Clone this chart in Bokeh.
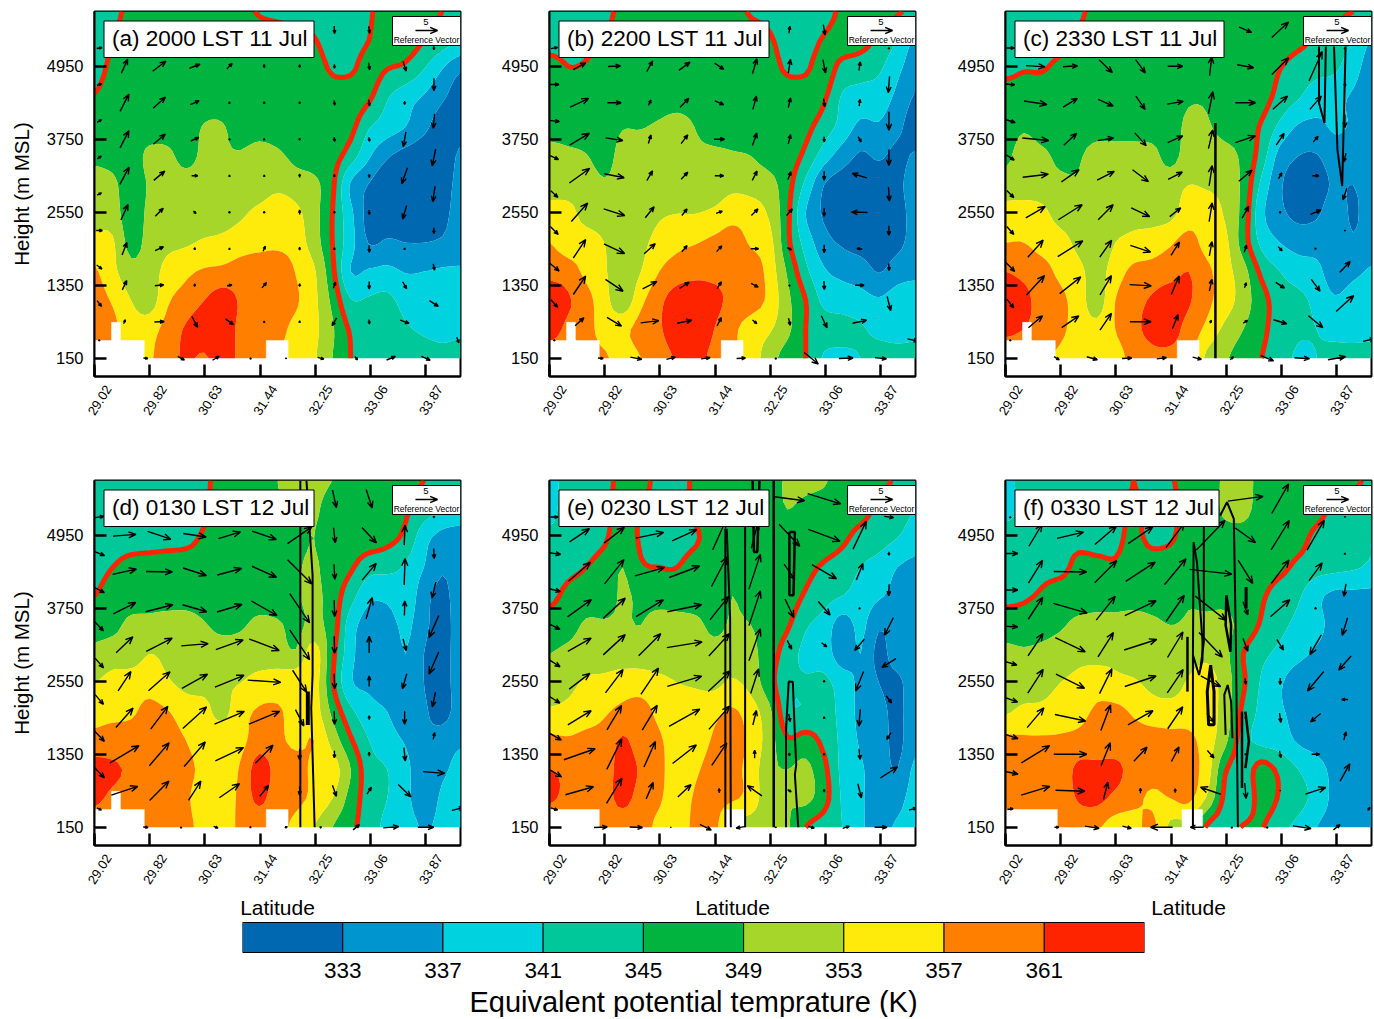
import numpy as np
from bokeh.plotting import figure
from bokeh.layouts import column, row
from bokeh.models import Range1d, FixedTicker, LinearAxis
from bokeh.core.properties import value
from bokeh.embed import file_html
from bokeh.resources import INLINE

FONT = "Liberation Sans"
LEVELS = [320, 333, 337, 341, 345, 349, 353, 357, 361, 385]
BAR_EDGES = [329, 333, 337, 341, 345, 349, 353, 357, 361, 365]
BAR_TICKS = [333, 337, 341, 345, 349, 353, 357, 361]
COLORS = ["#0068B0", "#0095CF", "#00D2E0", "#00C89B", "#00B53F", "#A5D629", "#FFEB0B", "#FF7F00", "#FF2400"]
LAT_TICKS = [29.02, 29.83, 30.64, 31.45, 32.26, 33.07, 33.88]
LAT_LABELS = ["29.02", "29.82", "30.63", "31.44", "32.25", "33.06", "33.87"]
H_TICKS = [150, 1350, 2550, 3750, 4950]
GRID_LAT = [29.02 + 0.2685 * i for i in range(21)]
GRID_H = [150 + 475 * i for i in range(13)]
V_LAT = [29.46, 29.97, 30.49, 31.0, 31.51, 32.03, 32.54, 33.05, 33.57]
V_H = [5550, 4950, 4350, 3750, 3150, 2550, 1950, 1350, 750]
LEFT_LAT, RIGHT_LAT = 29.09, 34.0
LEFT_H = [5250, 4650, 4050, 3450, 2850, 2250, 1650, 1050, 450]
BOT_LAT = [29.77, 30.29, 30.80, 31.31, 31.83, 32.34, 32.86, 33.37, 33.88, 34.35]
BOT_H = [150] * 9 + [450]

TITLES = ["(a) 2000 LST 11 Jul", "(b) 2200 LST 11 Jul", "(c) 2330 LST 11 Jul",
          "(d) 0130 LST 12 Jul", "(e) 0230 LST 12 Jul", "(f) 0330 LST 12 Jul"]
TITLE_W = [210, 210, 209, 210, 210, 204]

# theta-e fields, top row first
F_A = [
[343,344,346,347,347,347,347,347,346,344.7,344,343,343,343,343,344.7,346,347,346,345,344],
[343,345,347,347,347,347,347,347,347,347,347,347,345.3,343,343.5,345,347,347,345,343,341],
[343.5,346,347,347,347,347,347,347,347,347,347,347,347,344.5,344.5,346.5,345,344,341,337,333.5],
[345.3,347,347,347,347,347,347,347,347,347,347,347,347,347,347,345.5,341.2,338.5,336.5,333.5,331],
[347,347,347,347,347,347,349.3,349.3,347,347,347,347,347,347,346,341.3,339,337,334,331,332],
[348,347.5,347,350,350,347.5,350,349.5,349.5,351,349.8,348,347,346.5,343,337.5,333.5,331.5,330.5,331,333.5],
[351,350,346.5,349.5,351,351,351,351,351,351,352,351,350,345.8,336.5,332.8,330,330,330,331.5,334],
[351,351,346.5,350,351,351,351,351.5,352.5,354,355.5,354,350.5,345,338,331.5,331,331,331,332,334.5],
[354.5,353.5,347.5,350.5,352,352.5,353.5,354,355,355.5,356,355,351,345,338.5,332.8,333.5,333,333,333.5,335],
[357.5,354,350.5,351,354.5,356.2,357.5,358,359,360,360,356.8,353.5,346,337,337.5,338,336.8,337,337.5,337.5],
[359,356.5,353,351,356.5,358.5,361,363,360.5,359.5,359,357.5,354,348,341.3,341.5,342,339.5,339,339,339],
[361,358,355,355.5,358.5,361.5,363.5,363.5,360,359,358,356,354,349.5,344.5,343.5,343.5,341.5,340.5,340,340],
[356,356,356,356.5,359.5,361.5,360.5,363,360,358.5,357,356,353.5,349,345,343,343,343,342.5,342,343],
]
F_B = [
[343,343,343.5,344,346,347,347,347,347,347,346.5,344.6,344,343,343,343,346,347,347,345.5,344],
[343,343.5,344,345,347,347,347,347,347,347,347,347,345.5,343.5,343,345.5,347,346.5,344,341,336.5],
[347,345.2,345.5,347,347,347,347,347,347,347,347,347,346.5,344.5,344.5,347,343.5,342.5,341.5,338,334.5],
[347,347,347,347,347,347,347,347,347,347,347,347,347,347,347,345.5,340.5,339.5,339,336,332.5],
[347,347,347,347,348.8,348.8,349.7,351,348.8,347,347,347,347,347,346,343,339.5,336,336.5,334,331],
[351,350,349.2,347.5,350.5,351,351.5,351.5,350,350,349.5,349,347.5,347,344,339,335,332.5,333.5,332,333.5],
[351,351,351,349.5,350.5,351,351,351,351,351,352,351.5,350.5,346.5,340,333,331,331,331,332,335],
[355,354.5,351.5,351,351,351,352.5,353,353,353.8,355.5,355,352.5,346,337,332.5,331,331,331,331.5,334.5],
[357,355,355,353,351,352,354.5,356,356.8,358,359,356.5,354.5,346,339.5,334.5,332.5,331.5,331,332,334.5],
[360,359,356,353.5,350.5,353,357,359,360,360,360,359.5,355.5,348.5,342,337.5,336,335,332.8,335,336],
[363,361.5,358.5,354.5,350.5,356,360,363,363,362,360,359,356,350,345,340,339,338.5,337.5,339,339.5],
[363,360,358.5,355.5,356,358.5,360.5,363.5,363.5,361,358,355,353.5,350,345,343,342.5,341.5,340,339.5,340],
[358,358,358,357.5,355.5,357,359,361.5,362,360,358,355,351,347,345,340.5,340,341,342.5,342.5,342.5],
]
F_C = [
[343,343,343,344,344.5,346,347,347,347,347,347,347,346,345,346.5,347,347,347,346,345,344],
[343,343,343.5,344,345.5,347,347,347,347,347,347,347,347,347,347,347,346,344.5,343,341,337],
[344,344.8,344.8,346,347,347,347,347,347,347,347,347,347,347,347,345,343,342,341.5,338.5,335],
[347,347,347,347,347,347,347,347,347,347,348.5,348.5,347,347,346.5,343.5,341.2,339,338,336.5,335],
[347,348.5,347,347,347,347,347,347,347,347,350,349.5,347.5,347,344.5,340,336.5,336,337.5,336.5,335],
[348,351,350,348,348.5,351,351,351,350.5,347.5,351,351,350.5,348,343,335.5,333,332.8,335,335,335],
[351,351,351,350,349.5,351,351,351,351,351.5,353,352.5,351.5,348,340,333.5,331.5,331.5,333.5,333,335],
[354.5,355,354,351.5,351,351,351.5,352,351.5,352,355,355.5,352.5,347.5,338,334,332,332.5,335,332.5,335],
[357,357,355.5,354.5,352,350.5,353,354,355,356.5,358.5,355.5,354,347,340,337,335.5,335.5,335.5,333.5,335.5],
[361,360,358.5,356,354,351.5,355,358,358.5,359.5,361,358,354.5,350.5,344,341,339,338,335,336,337.5],
[363,362,359.5,358,355,351,357,359.5,361.5,363,361.5,358,355,351,346.5,343,342,340,337.5,339,340],
[362,361,359.5,358,355,354.5,357,360,362,362.5,359.5,356,352,349,346,343,341.5,341,340,340,340],
[358,358,358,356,354.5,357,355.5,358.5,360,360,359,352,349.5,347,345,342.5,340.5,341,342,342,342.5],
]
F_D = [
[343,343,343,343,343,343.5,344.5,346,347,347,349,350,350,349,348,347,347,346,345,344,343],
[343,343,343,343,343,344,344.5,347,347,347,348.5,349,349.5,347.5,347,347,346.5,345.5,343,341,340],
[343,343,343,343,343.5,344,345.5,347,347,347,347,348,349,347,347,347,346,344,338.5,335.5,335],
[343.5,345,346.5,347,347,347,347,347,347,347,347,348.5,349.5,347,345.5,342.5,342,340.5,337,333.5,335],
[345,347,347,347,347,347,347,347,347,347,347,348.5,350,347,342.5,338,338,340,334.5,332,335],
[347.5,348,350,350.5,351,351,349.3,348,348.5,350,349.5,348,350,347,339,335,335,338,334,331.5,335],
[350,351,351,353,352,351,351,351,351,351,351,349.5,355,346,338.5,333.5,334,337,333,331.5,335],
[353,354.5,355,355.5,353.5,352,352,352.5,353,354.5,355,356,355,345.5,337.5,336,335,336.5,333,331.5,335],
[356,356.2,356.5,358,357.2,355,354,352,355.5,357.5,357.5,355.5,355,348,342,338.5,337,334,333.5,331.5,335],
[358,358.5,358.5,358.5,358.5,357,355,355.5,356,359,358,356,357,351.5,345.5,341,339,336.5,333.5,335,336.5],
[363,361.8,360.4,360.4,359,358,356,355,357.5,363,359.5,359,356,355,349,342.5,341,338.5,333,336,338.5],
[362,360,359,358.5,358,357.5,355,355,358,362,358.5,358,356,353,347.5,343,341,338.5,333.5,338,340],
[358,358,358,358,358,358,355.5,354.5,358,358,358,356,353,349,346,343,340,339.5,336.5,338.5,340],
]
F_E = [
[339,343,343,344,346,347,343,343,346,347,347,347,347.5,349.5,350,349.5,347,347,346,344.5,343],
[339.5,343,343,344,346.5,345,343.5,343,346,347,347,347,347.5,349,348,347,347,346.5,344,343,341],
[342,343,343.5,344.5,347,344.5,343,343,344.5,347,347,347,347,347,347,347,345.8,343.5,342.5,341,339],
[343,344,345,346.5,349,345.5,345,345,347,347,348.5,347,347,347,346,344.5,343,341,339.5,337,336],
[344,346,347,347,349.5,348,347,347,347,347,349,347.5,347,347,344.5,342.5,341,339.5,337.5,336,336],
[347,347.5,349.5,349.5,349.5,349,351,350.5,350,348,349.5,349,347.5,345.5,341.5,339.5,335,338,333.5,335,336],
[349,350,351,351,351,351,351,351,351,350.5,351,350,347,343,340,339,335,337,332,335,336],
[351,352,353.5,354,355,355,354,353,352.5,352,353.5,351.5,346.5,342,341.5,342,339,336,333,332,336],
[353.5,354,355,356.5,358,358.5,356,355,355,356,357.5,355,350,342,341.5,343,339.5,336,334.5,332,336],
[358,357.5,358,358.5,361.5,359,357.5,355,355,357.5,358.5,356,351,345.5,346.5,344,340,336.5,335,332,336],
[361,360,357.5,359,362.5,360.5,358,355,356.5,358.5,358,355.5,350,349,350,346,340,337.5,335,333,338],
[361.5,360,358,359.5,362,359.5,357.5,355,357.5,358,357.5,355.5,350,349,350,346.5,340.5,337.5,335.5,335.5,339],
[358,358,358,359,359,358.5,356,355,358,358,352,351,350.5,349.5,345,343,341,337.5,336,337.5,339],
]
F_F = [
[339,343,343,343,343.5,344.5,343,345,343.5,344.5,347,347.5,349.5,350,348,347,347,347,347,346,344],
[339.5,342,343,343,343,343,343.5,345.5,343.5,343.5,347,347.5,349.5,350,347.5,347,347,346.5,344,343,342],
[343,343,343,344,344,343.5,344,346,344,344.5,347,348,348,347.5,347,347,346.5,343.8,342.5,342,341],
[343.5,343.5,344,344,346,346,345.5,347,347,347,347,347.5,348,347,347,346,344,342.5,342,341.5,340.5],
[344,344.5,345.5,347,347,347,347,347,347,347,348.5,348,348,347,345.5,343,341.5,338,336,336,336],
[347,347,347.5,348.5,350,350.5,350.5,351,350,349,349.5,350,350,347.5,344.5,342,340,338,336,336,336],
[350,349.5,350,351,352,351.5,352,351,351,351,351,352,350,345,342,340,338,336.5,336,336,336],
[351,350.5,351.5,353,354,355.5,354,353.5,352,351,353.5,355,351,345.5,340.5,337.5,335,335,335.5,336,336],
[352.5,354,354,355,356,357.5,358,356.5,355,355,355,355,351,344,340,337.5,336,335,335,335.5,336],
[358,357.5,357.5,357.5,358,358.5,358.5,358.5,358.5,358,358,355,350,342.5,340,339,336.5,335.5,335,335.5,336],
[359,358,358,358.5,362,362,362,359.5,358.5,358.5,358.5,355,345.5,343,346.5,344,341,338.5,336,335.5,336],
[359,358,358,358,361.5,362,360,358,356.5,357,358,352.5,344,341.5,347,344.5,342.5,339.5,336,335.5,336],
[358,358,358,358,358,357.5,355,355.5,358,352,351,344.5,343,345.3,345.2,342,340,337,335.5,335.5,336],
]

# wind vectors in reference-vector units (u, w pairs); main lattice rows top first
M_A = [
[0,0, 0,0, 0,0, 0,0, 0,0, 0,0, .1,-1.7, .2,-1.6, 0,0],
[1.4,3.2, 3,2.3, 2.4,.9, 1.2,1.3, 0,.8, 0,.7, 0,-.9, .2,-1.6, .7,-2.2],
[2,3.9, 2.8,2.5, 2,.9, 0,.4, 0,.4, 0,.5, .2,-1.1, .2,-1.4, 0,-.8],
[2,3.9, 2.7,2.3, 1.8,.8, 0,.3, 0,.3, 0,.5, .2,-1, .2,-.9, -.6,-3.4],
[2.1,3.9, 2.5,2.1, 1.4,0, 0,.3, 0,.3, 0,.8, 0,.6, .1,-.8, -1.3,-3.6],
[1.6,3.5, 1.8,1.8, .6,-.6, 0,.4, 0,.4, 0,1, 0,.5, .1,-1, -.9,-3.1],
[1.1,2.8, 1.9,.9, .1,.5, 0,.3, .5,1.1, 0,.7, 0,.4, .1,-1.6, 0,.3],
[1,2.1, 2,.2, .1,.6, 1.1,.2, 1,1.2, 0,.7, .5,1.4, 0,-1.7, .9,-1.6],
[.4,.9, 2.2,.1, 1.3,-2.5, 1.8,-1.3, 0,.3, 0,.4, -1,-1.8, .1,-1, 2,-.7],
]
L_A = [1.2,.2, 1.1,.4, 1,.6, .9,.6, 1,.5, 1.4,0, 1.2,-.9, 1,-1.3, 0,0]
R_A = [0,-.8, 0,-2.8, -.3,-3.3, -.8,-3.8, -.5,-3.5, 0,-1.3, .3,-1.4, 2,-1.3]
B_A = [1,-.1, 1.5,-.8, 1.5,.9, 0,0, 0,.2, 1.4,-.4, .6,-.8, 2,.8, 2,-.9, .5,-1.3]
M_B = [
[0,0, 0,0, 0,0, 0,0, 0,0, 0,0, .2,1.6, .4,-2.3, 0,0],
[2.8,1.5, 2.8,.1, 1.3,2.4, 2.5,1.9, 2.1,-1.4, 1,3.4, .5,3.1, .6,-3, .3,2],
[4.2,2, 3.1,0, .6,1.2, 2,2, 2,-.9, .8,3, .5,2.2, .2,-1.8, .2,1.5],
[4.5,2.7, 3.9,-.6, .6,1.9, 1.5,2, 2.4,0, 1,2.8, .5,2.1, .1,-1.2, .7,-1.2],
[4.6,3.3, 4.5,-.9, 1.3,2.2, 1.5,1.6, 2,0, 1.1,2.1, .7,1.8, 0,-2, -3.3,1],
[3.7,4.2, 4.8,-1.5, 2,2.5, 1.2,1.5, 1.4,.5, 1.5,1.5, 1.3,1.5, 0,-1.8, -3.6,.1],
[2.8,4.2, 4.7,-2.2, 2.5,2.3, 1.2,1.4, 1.2,1.3, 1.8,0, 1,-.5, 0,-1.8, -1.2,.1],
[2.8,4.2, 4,-2.7, 3.2,1.7, 2.2,1.4, 1,1.5, 1.6,-.8, 0,0, .1,-1.9, 2,0],
[2,1.8, 3.3,-2, 4.1,.5, 3.3,.7, 1,1.9, 1,-.8, .4,-1.6, 1.3,-2.7, 3.2,.7],
]
L_B = [1.5,.3, 2.1,0, 2.3,-.3, 1.9,-.9, 1.6,-1.5, 1.8,-1.8, 2.2,-1.8, 1.5,-1.7, 0,0]
R_B = [0,0, -.3,-3.7, 0,-4.2, 0,-3.6, .2,-3.2, 0,-2.2, .1,-1.6, .8,-3.2]
B_B = [1.2,-.1, 2.6,-.5, 2,.5, 2,.3, 2,.1, 0,0, 3.2,-2.6, 3.2,.1, 2.6,-.3, 2.4,-.5]
M_C = [
[0,0, 0,0, 0,0, 0,0, 0,0, 0,0, 2.8,-1.2, 3.8,3.5, 0,0],
[4.3,-.3, 3.3,.2, 3,-2.9, 2.2,-3, 3.4,0, .5,4.3, 3.7,-.7, 3.8,3.8, 3,6.7],
[5.2,-.8, 3.2,2, 3.4,-1.5, 2.1,-3, 3.6,.6, 1,5, 4.6,0, 3.3,3, 2.6,3],
[6,-.6, 2.9,2.7, 3.6,.6, 2.6,-2.9, 3.4,1.5, 1,4.3, 4.5,1.5, 1.8,2.7, 1.1,1.3],
[5.8,.7, 4,2.8, 3.9,2, 3.6,-2.7, 3.2,1.7, .7,4.6, 3,2.5, .7,1.3, 1.5,0],
[4.4,2.6, 5.4,3.4, 3.4,3.4, 4.2,-2, 2.5,2, .7,4.3, 1.5,2.7, .3,.2, 2.4,1],
[3.5,3.9, 5.7,3.6, 2.7,3.8, 4.6,-1.5, 1.9,3, .6,3.2, .5,1.6, .9,-.9, .3,.1],
[4.1,4.4, 4.8,3.8, 2.6,4.4, 4.9,-.3, 1.8,4.2, .6,2.7, .4,1.1, 2,-1.3, 2,-2.7],
[3.2,2.7, 3.9,2.7, 2.6,3.8, 4.8,0, 1.3,3.2, .3,.7, 1,.6, 3,-.9, 3.3,-2.7],
]
L_C = [1.8,0, 2,-.2, 2.2,-.7, 1.8,-1.2, 1.6,-1.6, 1.6,-1.8, 2,-2, 1.6,-2, 0,0]
R_C = [0,0, 0,-1, 0,-3, -.5,-2, -.9,-2.6, 0,.2, 2.4,2.5, 4,3.6]
B_C = [1.2,-.7, 2.4,-.7, 2.2,.1, 2.2,.3, 2,-.5, .7,.7, 2.9,-1.2, 3.4,-.2, 4,.7, 2.6,.6]
M_D = [
[0,0, 0,0, 0,0, 0,0, 0,0, 0,0, .9,-4, 1.4,-4.2, 0,0],
[5.2,.4, 5.3,-1.8, 5.2,-.8, 5,1.5, 5.5,-1.9, 5.5,3.8, .4,-3.4, 3.3,-3.5, .2,4.5],
[5.4,1.2, 6,-.1, 5.3,-1.7, 5.5,1.5, 5.6,-2.5, 5.5,-5.5, .2,-3.4, 3.2,3.8, .2,6],
[5.1,2.6, 6.2,1.6, 5.5,-1.6, 5.7,1.7, 5.8,-3.3, 4.5,-6.6, .1,-3.7, 1.4,4.9, .1,3.3],
[3.8,3.6, 5.9,3, 6.1,.5, 6.2,2.2, 6.8,-2.6, 4.5,-6.8, .1,-3.9, 0,3.8, .7,-2.7],
[2.9,4.4, 4.9,4.3, 5.8,3.2, 6.6,2.7, 7.5,-.5, 3.2,-5, .1,-3.4, 0,2.4, -1,-3.4],
[3.9,4.4, 3.9,5.2, 5.4,4.9, 6.8,2.9, 7,2.9, 1.9,-3.7, .1,-3, 0,.9, 0,-3],
[6.6,3.9, 4.5,5.2, 4.8,5.6, 6.4,3, 4,4.1, 0,-2.5, 0,-1.6, 0,.9, .3,-3],
[6,2, 4.4,4.4, 2.8,4.4, 4.6,3.2, 2,2.5, 0,-2, .9,-2.5, 1,1.5, 2.9,-2.8],
]
L_D = [2.1,.3, 2.4,-.9, 2.3,-1.2, 1.9,-2, 1.9,-2.2, 1.9,-2.2, 2.3,-2.4, 2.3,-2.4, 1,-.5]
R_D = [0,-.4, .1,-2.3, -.9,-3.6, -2.2,-5, -2.2,-5, -.7,-3.3, .3,1.5, 4.9,-.4]
B_D = [1.1,-.1, 0,0, 1,-.4, .3,-.1, .6,.2, .3,.2, 1.4,1.2, 3.5,.3, 3.6,0, 2.7,.6]
M_E = [
[0,0, 0,0, 0,0, 0,0, 0,0, 0,0, 6.9,-.9, 7.5,-2.3, 0,0],
[4.5,3, 4.6,3.6, 6.3,1.3, 5.6,2.6, 3,6.7, 1.5,6, 4.7,-5, 7.2,-2.7, 3,6.3],
[5,4.3, 4.4,5.5, 6.7,1.9, 6.9,2.6, 3.5,6.7, 2.6,7.9, 2.4,-3.5, 5.6,-3.2, 1.5,3.8],
[5.4,3.9, 5,4.6, 6.2,3.8, 7.8,1.6, 4.2,5.3, 2.6,7.9, 2,-4.2, 2.7,-3.1, 0,.3],
[5.3,3, 5,4.6, 5,5, 8,1.3, 4.7,5.1, 2.6,7.3, 1,-2, 1.2,-.9, -2.2,-2.6],
[4.7,3.6, 4,5.3, 4,6, 7.8,2.3, 5,4.7, 1.8,5.6, 0,0, 0,.4, -1.8,-4.4],
[5.3,3.2, 3.3,5.5, 3.4,5.6, 7,3.9, 4.7,5.3, .8,3.3, .3,-1.8, 0,.4, -.3,-3.8],
[7.1,2.5, 3.4,6.9, 2.6,5.8, 5.4,4.2, 3.4,5.1, 0,1.8, 0,-.7, 0,.5, .3,-2.3],
[6.4,1.8, 3.5,5.7, 1.6,3.7, 3,2.8, 0,1, -3.3,2.3, .8,-.5, 0,.7, .8,-3.2],
]
L_E = [1.7,0, 2.9,-.4, 2.8,-.7, 2.6,-1.3, 2.6,-1.7, 2.5,-1.6, 3.2,-1.9, 3.3,-2, 1.5,-.5]
R_E = [2.1,-.3, 0,-.8, -.1,-2.6, -2,-4, -3.2,-2, 1.2,-1.6, -1,-1.5, 3.9,2.5]
B_E = [3,.1, 2.9,-.1, 0,.1, 2.6,-1.3, -2.2,-.4, 0,.2, 1.4,-.4, 1.5,.5, 2.8,0, 1.7,.5]
M_F = [
[0,0, 0,0, 0,0, 0,0, 0,0, 0,0, 8,1.1, 3.8,6.7, 0,0],
[3,5, 6,1.4, 4.9,4.2, 5.6,3.8, 4.2,5.6, 6.5,6.7, 4.6,-3.3, 4.1,6.7, 3.9,6.8],
[3.2,5.2, 7.5,-.1, 5,5, 6.7,4.4, 4.9,5.9, 9.6,-1.1, 3.3,-5.3, 4,5.3, 3,4],
[3.3,5, 7.7,-2.2, 4.3,5.4, 7.1,3.4, 4.1,5.9, 7,-5.5, 1.1,-3, 4.4,3.9, 0,.4],
[3.4,5.1, 6.8,-3.2, 3.5,5.5, 7.4,2.4, 3.5,5.8, 5.3,-5.6, 1.1,-2.9, 1.5,-2.4, -2.6,-4.5],
[3.5,5.4, 6.5,-3.2, 2.8,5.6, 7.1,2.4, 3.6,5.3, 4.5,-2.4, .2,-1.3, 0,-1.5, -3.7,-4.4],
[3.8,4.5, 7,-1.5, 2.2,5.8, 5.7,3.2, 3.4,5, 1.7,-2, .2,0, .3,-2.1, -2.3,-1.9],
[6.4,3.9, 7.5,0, 2.1,5.2, 3,3.2, 1.7,3.3, 1.5,-1.7, .2,0, .3,-1.5, 1.8,0],
[6.5,2, 6.7,-.2, 1,3.9, 0,1.1, 0,.9, -4.6,1.6, .3,-3.5, 0,-.1, 4.6,1.5],
]
L_F = [0,0, 3.4,0, 3.4,0, 3.4,-.2, 3,-.9, 3.3,-1.2, 3.5,-1.2, 3.5,-.7, 1.3,.2]
R_F = [0,-.2, 0,0, -.5,-2.8, -1.2,-4, -2.8,-3.2, -1.4,0, .5,1.9, 2.2,3.9]
B_F = [1,0, 3.2,-.5, 2,-.5, -5,0, -3,0, 0,0, 0,0, 4.1,-.6, 1.5,1.2, .5,.7]

# terrain steps: lat_left, lat_right, top height
T_A = [[29.02, 29.75, 440], [29.27, 29.40, 740], [31.54, 31.86, 440]]
T_B = T_A
T_C = T_A
T_D = T_A
T_E = [[29.02, 29.75, 440], [31.60, 31.89, 440]]
T_F = [[29.02, 29.78, 440], [31.61, 31.91, 440]]

# black cloud contours: (lats, heights, width)
K_A = []
K_B = []
K_C = [([32.10, 32.10], [150, 4018], 2.5),
       ([33.72, 33.70, 33.62, 33.62], [5275, 4018, 4346, 5275], 2),
       ([33.84, 33.89, 33.96, 34.01], [5275, 3581, 2980, 5275], 2)]
K_D = [([32.04, 32.04], [150, 5850], 2),
       ([32.13, 32.22, 32.22, 32.20, 32.25], [5850, 4292, 2653, 2106, 150], 2),
       ([32.15, 32.15], [2380, 1830], 4)]
K_E = [([31.60, 31.60], [150, 5057], 2), ([31.62, 31.67, 31.68], [5057, 3600, 150], 2),
       ([31.89, 31.89], [150, 5111], 2), ([32.0, 32.02, 32.07, 32.1], [5850, 4674, 4674, 5850], 2.5),
       ([32.31, 32.31], [150, 5850], 2.5),
       ([32.54, 32.62, 32.60, 32.54, 32.54], [5002, 5002, 3964, 3964, 5002], 2.5),
       ([32.49, 32.49, 32.53, 32.59, 32.62, 32.64, 32.62, 32.67], [150, 1750, 2543, 2543, 1669, 1177, 1013, 150], 2)]
K_F = [([31.77, 31.77, 31.78, 31.83, 31.91, 31.91, 31.86, 31.77], [150, 2980, 4838, 4500, 3199, 2900, 2653, 2980], 2),
       ([31.69, 31.69], [3280, 2380], 2.5),
       ([31.93, 31.93, 31.88], [5111, 3199, 2760], 2),
       ([32.17, 32.27, 32.37, 32.40, 32.43], [5275, 5494, 5220, 3199, 150], 2),
       ([32.03, 31.98, 32.0, 32.08, 32.08, 32.03], [2815, 2380, 1833, 1833, 2380, 2815], 3),
       ([32.26, 32.25, 32.32, 32.33, 32.26], [3964, 3472, 3035, 3472, 3964], 2.5),
       ([32.25, 32.23, 32.28, 32.33, 32.35], [1669, 2325, 2489, 2215, 1614], 2),
       ([32.55, 32.55], [4100, 3745], 3),
       ([32.49, 32.49], [2051, 795], 2.5), ([32.54, 32.59, 32.54], [2051, 1560, 1123], 2.5)]

FIELDS = [F_A, F_B, F_C, F_D, F_E, F_F]
MAINS = [M_A, M_B, M_C, M_D, M_E, M_F]
LEFTS = [L_A, L_B, L_C, L_D, L_E, L_F]
RIGHTS = [R_A, R_B, R_C, R_D, R_E, R_F]
BOTS = [B_A, B_B, B_C, B_D, B_E, B_F]
TERRAIN = [T_A, T_B, T_C, T_D, T_E, T_F]
CLOUD = [K_A, K_B, K_C, K_D, K_E, K_F]

LAT0, LAT1, H0, H1 = 29.02, 34.39, -150, 5850
FW, FH = 366, 365
PX_LAT = FW / (LAT1 - LAT0)
PX_H = FH / (H1 - H0)
VEC_PX = 22 / 5
LABEL_SHIFT = 14 / PX_LAT


def sx(px):
    return LAT0 + px / PX_LAT


def sy(px):
    return H1 - px / PX_H


def smooth_rows(z, n):
    # Catmull-Rom rendering of the read field along the first axis, so contours are not angular
    z = np.asarray(z)
    pad = np.vstack([z[0], z, z[-1]])
    out = []
    for i in range(z.shape[0] - 1):
        p0, p1, p2, p3 = pad[i], pad[i + 1], pad[i + 2], pad[i + 3]
        for k in range(n):
            t = k / n
            out.append(0.5 * (2 * p1 + (p2 - p0) * t + (2 * p0 - 5 * p1 + 4 * p2 - p3) * t * t
                              + (3 * p1 - p0 - 3 * p2 + p3) * t ** 3))
    out.append(z[-1])
    return np.array(out)


def fine_field(z, n=4):
    return smooth_rows(smooth_rows(z, n).T, n).T


def arrow_paths(lats, hs, uv, scale=VEC_PX):
    xs, ys = [], []
    for la, h, u, w in zip(lats, hs, uv[0::2], uv[1::2]):
        dx, dy = u * scale, w * scale
        L = max((dx * dx + dy * dy) ** 0.5, 1.2)
        ux, uy = (dx / L, dy / L) if (dx or dy) else (0, 1)
        dx, dy = ux * L, uy * L
        tx, ty = dx / 2, dy / 2
        b = min(8, 0.3 * L + 1.5)
        c, s = 0.92, 0.38
        b1 = (tx - b * (ux * c - uy * s), ty - b * (uy * c + ux * s))
        b2 = (tx - b * (ux * c + uy * s), ty - b * (uy * c - ux * s))
        pts = [(-tx, -ty), (tx, ty), b1, (tx, ty), b2]
        xs.append([la + p[0] / PX_LAT for p in pts])
        ys.append([h + p[1] / PX_H for p in pts])
    return xs, ys


def panel(i, left, right, top, bottom, latitude=False):
    width = left + FW + right
    height = top + FH + bottom
    p = figure(width=width, height=height, output_backend="svg", toolbar_location=None,
               x_range=Range1d(LAT0, LAT1), y_range=Range1d(H0, H1),
               min_border_left=left, min_border_right=right, min_border_top=top, min_border_bottom=bottom)
    p.grid.visible = False
    p.background_fill_color = "white"
    p.outline_line_color = "black"
    p.outline_line_width = 2
    for ax, ticks in ((p.xaxis[0], LAT_TICKS), (p.yaxis[0], H_TICKS)):
        ax.ticker = FixedTicker(ticks=ticks)
        ax.major_tick_in = 12
        ax.major_tick_out = 0
        ax.minor_tick_in = 0
        ax.minor_tick_out = 0
        ax.major_tick_line_width = 2.5
        ax.axis_line_width = 2
        ax.major_label_text_font = FONT
        ax.major_label_text_color = "black"
    p.xaxis[0].major_label_overrides = {t: "" for t in LAT_TICKS}
    p.yaxis[0].major_label_text_font_size = "16.5px"
    p.yaxis[0].major_label_standoff = 11

    shifted = [round(t + LABEL_SHIFT, 3) for t in LAT_TICKS]
    lab = LinearAxis(ticker=FixedTicker(ticks=shifted), major_label_overrides=dict(zip(shifted, LAT_LABELS)),
                     major_tick_in=0, major_tick_out=0, minor_tick_in=0, minor_tick_out=0, axis_line_color=None,
                     major_label_orientation=1.0, major_label_text_font=FONT, major_label_text_font_size="13px",
                     major_label_text_color="black", major_label_standoff=10)
    if latitude:
        lab.axis_label = "Latitude"
        lab.axis_label_text_font = FONT
        lab.axis_label_text_font_style = "normal"
        lab.axis_label_text_color = "black"
        lab.axis_label_text_font_size = "21px"
        lab.axis_label_standoff = 5
    p.add_layout(lab, "below")

    z = np.array(FIELDS[i], dtype=float)[::-1]
    zf = fine_field(z)
    gx = np.linspace(GRID_LAT[0], GRID_LAT[-1], zf.shape[1])
    gy = np.linspace(GRID_H[0], GRID_H[-1], zf.shape[0])
    p.contour(gx, gy, zf, LEVELS, fill_color=COLORS, line_color=None)
    for lo, hi, top_h in TERRAIN[i]:
        p.quad(left=lo, right=hi, bottom=0, top=top_h, fill_color="white", line_color="white", line_width=0.5)
    p.contour(gx, gy, zf, [345], line_color="#FF2400", line_width=5)
    for xs, ys, w in CLOUD[i]:
        p.line(xs, ys, line_color="black", line_width=w)

    lats, hs, uv = [], [], []
    for r, hh in enumerate(V_H):
        lats += V_LAT
        hs += [hh] * len(V_LAT)
        uv += MAINS[i][r]
    lats += [LEFT_LAT] * 9
    hs += LEFT_H
    uv += LEFTS[i]
    lats += [RIGHT_LAT] * 8
    hs += LEFT_H[:8]
    uv += RIGHTS[i]
    lats += BOT_LAT
    hs += BOT_H
    uv += BOTS[i]
    ax_, ay_ = arrow_paths(lats, hs, uv)
    p.multi_line(ax_, ay_, line_color="black", line_width=1.4)

    # time stamp box
    p.quad(left=sx(9.5), right=sx(9.5 + TITLE_W[i]), top=sy(9.5), bottom=sy(46),
           fill_color="white", line_color="black", line_width=1)
    p.text(x=[sx(17.5)], y=[sy(26.5)], text=[TITLES[i]], text_font=value(FONT), text_font_size=value("22.5px"),
           text_baseline="middle", text_align="left", text_color="black")

    # reference vector box
    p.quad(left=sx(298), right=sx(366), top=sy(5), bottom=sy(34), fill_color="white", line_color="black", line_width=1)
    p.text(x=[sx(331.5)], y=[sy(10)], text=["5"], text_font=value(FONT), text_font_size=value("9.5px"),
           text_align="center", text_baseline="middle", text_color="black")
    p.text(x=[sx(332)], y=[sy(28.5)], text=["Reference Vector"], text_font=value(FONT), text_font_size=value("8.5px"),
           text_align="center", text_baseline="middle", text_color="black")
    rx, ry = arrow_paths([sx(332)], [sy(19)], [5, 0])
    p.multi_line(rx, ry, line_color="black", line_width=1.4)
    return p


def add_ylabel(p):
    p.yaxis[0].axis_label = "Height (m MSL)"
    p.yaxis[0].axis_label_text_font = FONT
    p.yaxis[0].axis_label_text_font_style = "normal"
    p.yaxis[0].axis_label_text_color = "black"
    p.yaxis[0].axis_label_text_font_size = "20.5px"
    p.yaxis[0].axis_label_standoff = 11


p1 = panel(0, 94, 3, 11, 92)
p2 = panel(1, 86, 4, 11, 92)
p3 = panel(2, 86, 2, 11, 92)
p4 = panel(3, 94, 3, 12, 76, True)
p5 = panel(4, 86, 4, 12, 76, True)
p6 = panel(5, 86, 2, 12, 76, True)
add_ylabel(p1)
add_ylabel(p4)

# colour bar: frame is in pixels downward from the bar top, so the labels share one frame with it
cb = figure(width=1366, height=96, output_backend="svg", toolbar_location=None,
            x_range=Range1d(BAR_EDGES[0], BAR_EDGES[-1]), y_range=Range1d(95, -1),
            min_border_left=242, min_border_right=222, min_border_top=0, min_border_bottom=0)
cb.axis.visible = False
cb.grid.visible = False
cb.outline_line_color = None
cb.quad(left=BAR_EDGES[:-1], right=BAR_EDGES[1:], bottom=30, top=0, fill_color=COLORS, line_color="black", line_width=1)
cb.text(x=BAR_TICKS, y=[48] * len(BAR_TICKS), text=[str(t) for t in BAR_TICKS], text_font=value(FONT),
        text_font_size=value("22.5px"), text_align="center", text_baseline="middle", text_color="black")
cb.text(x=[(BAR_EDGES[0] + BAR_EDGES[-1]) / 2], y=[79], text=["Equivalent potential temprature (K)"],
        text_font=value(FONT), text_font_size=value("29px"), text_align="center", text_baseline="middle",
        text_color="black")

page = column(row(p1, p2, p3), row(p4, p5, p6), cb)
open("out.html", "w").write(file_html(page, INLINE))
